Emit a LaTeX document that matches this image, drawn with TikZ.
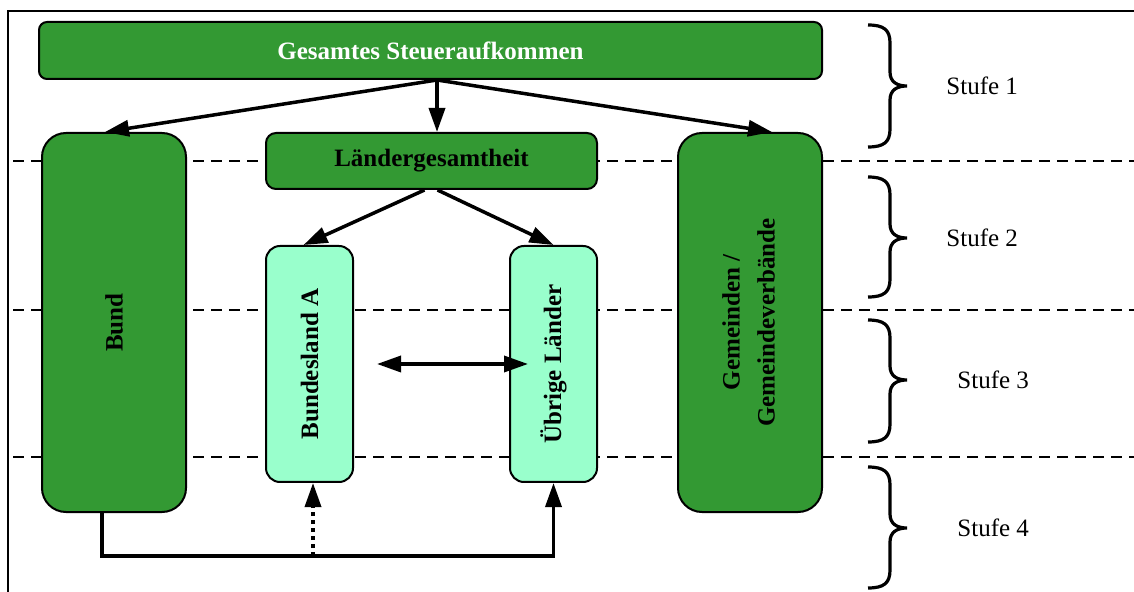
\documentclass[tikz,border=0pt]{standalone}
\usepackage{fontspec}
\setmainfont{Liberation Serif}
\usetikzlibrary{arrows.meta,calc}
\definecolor{dgreen}{HTML}{339933}
\definecolor{lgreen}{HTML}{99FFCC}
\newcommand\stufebrace[3]{%
  \draw[brace] (868,#1) .. controls (884,#1) and (890,{#1+5}) .. (890,{#1+18})
    -- (890,{#2-14}) .. controls (890,{#2-4}) and (897,#2) .. (907,#2)
    .. controls (897,#2) and (890,{#2+4}) .. (890,{#2+14})
    -- (890,{#3-18}) .. controls (890,{#3-5}) and (884,#3) .. (868,#3);}
\begin{document}
\begin{tikzpicture}[x=0.5pt,y=-0.5pt,
 box/.style={draw=black,line width=1pt,fill=dgreen,rounded corners=4pt,inner sep=0pt,
   font=\fontsize{12.5}{17.5}\selectfont\bfseries},
 lbox/.style={box,fill=lgreen,rounded corners=7pt},
 tall/.style={box,rounded corners=12pt},
 tip/.style={Triangle[length=12pt,width=8pt]},
 arr/.style={line width=1.75pt,-{Triangle[length=12pt,width=8pt]}},
 darr/.style={line width=1.75pt,{Triangle[length=12pt,width=8pt]}-{Triangle[length=12pt,width=8pt]}},
 level/.style={dash pattern=on 5.5pt off 3.5pt,line width=1.4pt},
 brace/.style={line width=1.6pt},
 stufe/.style={anchor=west,font=\fontsize{12.5}{15}\selectfont,inner sep=0pt}]
\useasboundingbox (0,0) rectangle (1134,592);
% frame
\draw[line width=0.8pt] (8,592) -- (8,11) -- (1134,11);
% level separators
\draw[level] (13,161) -- (1134,161);
\draw[level] (13,310) -- (1134,310);
\draw[level] (13,457) -- (1134,457);
% boxes
\node[box,minimum width=391.5pt,minimum height=28.5pt,text=white] (top) at (430.5,50.5) {Gesamtes Steueraufkommen};
\node[tall,minimum width=72pt,minimum height=189.5pt] (bund) at (114,322.5) {\rotatebox{90}{Bund}};
\node[box,rounded corners=5pt,minimum width=165.5pt,minimum height=28pt] (lg) at (431.5,161) {Ländergesamtheit};
\node[tall,minimum width=72pt,minimum height=189.5pt] (gem) at (750,322.5)
  {\rotatebox{90}{\begin{tabular}{@{}c@{}}Gemeinden /\\Gemeindeverbände\end{tabular}}};
\node[lbox,minimum width=43.5pt,minimum height=118pt] (ba) at (309.5,364) {\rotatebox{90}{Bundesland A}};
\node[lbox,minimum width=43.5pt,minimum height=118pt] (ub) at (553.5,364) {\rotatebox{90}{Übrige Länder}};
% top arrows
\coordinate (src) at ($(top.south)+(6.5,0)$);
\draw[arr] (src) -- ($(bund.north)+(-9,0)$);
\draw[arr] (src) -- (src |- lg.north);
\draw[arr] (src) -- ($(gem.north)+(22,0)$);
\draw[arr] ($(lg.south)+(-7,0)$) -- ($(ba.north)+(-6,0)$);
\draw[arr] ($(lg.south)+(6,0)$) -- (ub.north);
% exchange
\coordinate (dl) at (377,364);
\draw[darr] (dl) -- ($(ub.west)+(19,0)$);
% bottom connectors
\coordinate (bj) at (102,556);
\coordinate (dj) at (313,556);
\draw[arr] (bj |- bund.south) -- (bj) -| (ub.south);
\draw[line width=1.75pt,dash pattern=on 2pt off 2pt,-{Triangle[length=12pt,width=8pt]}] (dj) -- (dj |- ba.south);
% braces and levels
\stufebrace{25}{86}{147}
\stufebrace{177}{238}{297}
\stufebrace{320}{380}{442}
\stufebrace{467}{528}{588}
\node[stufe] (s1) at (946,86) {Stufe 1};
\node[stufe] (s2) at (946,238) {Stufe 2};
\node[stufe] (s3) at (957,380) {Stufe 3};
\node[stufe] (s4) at (957,528) {Stufe 4};
\end{tikzpicture}
\end{document}
